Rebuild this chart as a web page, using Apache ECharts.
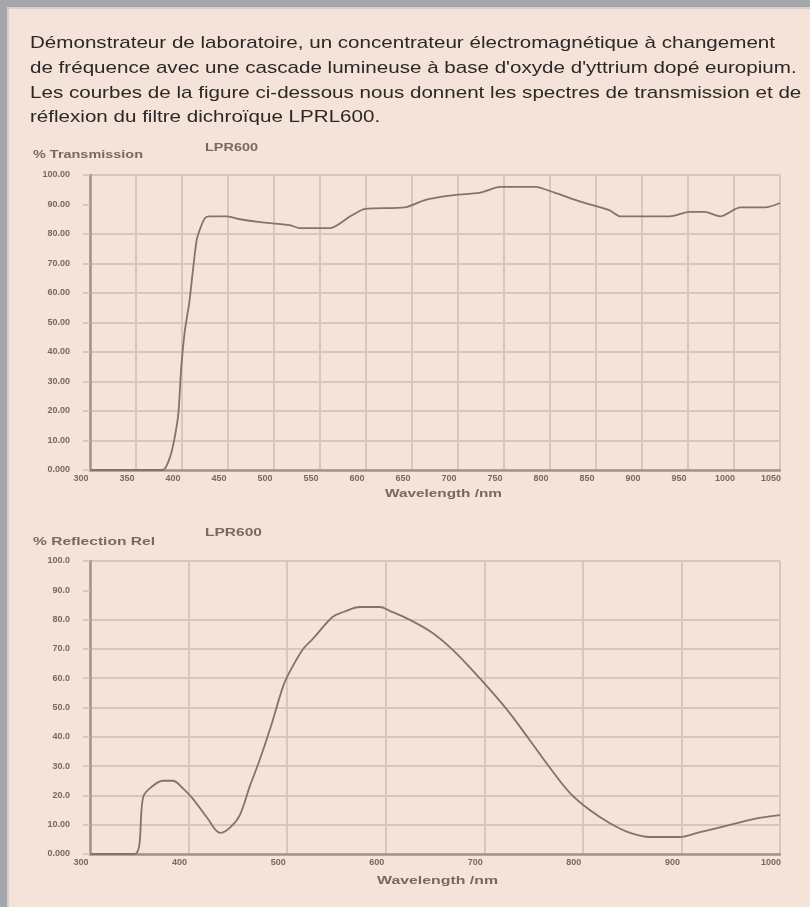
<!DOCTYPE html>
<html>
<head>
<meta charset="utf-8">
<script src="https://cdn.jsdelivr.net/npm/echarts@6/dist/echarts.min.js"></script>
<style>
  html, body { margin: 0; padding: 0; background: #f5e2d8; }
  #chart { width: 810px; height: 907px; }
</style>
</head>
<body>
<div id="chart"></div>
<script>
// Caption above the two spectra
const introLines = [
  "Démonstrateur de laboratoire, un concentrateur électromagnétique à changement",
  "de fréquence avec une cascade lumineuse à base d'oxyde d'yttrium dopé europium.",
  "Les courbes de la figure ci-dessous nous donnent les spectres de transmission et de",
  "réflexion du filtre dichroïque LPRL600."
];
const filterName = "LPR600";
const xAxisTitle = "Wavelength /nm";

// Transmission spectrum
const transAxisTitle = "% Transmission";
const transYLabels = ["0.000", "10.00", "20.00", "30.00", "40.00", "50.00", "60.00", "70.00", "80.00", "90.00", "100.00"];
const transWavelengths = [300, 379, 387, 392, 396, 399, 403, 408, 412, 416, 420, 425, 430, 449, 463, 485, 517, 528, 561, 583, 599, 642, 664, 691, 724, 746, 784, 805, 833, 865, 876, 930, 952, 968, 985, 1007, 1034, 1050];
const transValues      = [0,   0,   4.4, 11,  19,  34,  47,  57,  68,  78,  82,  85.4, 86, 86,  85,  84,  83,  82,  82,  86,  88.5, 89, 91.5, 93, 94,  96,  96,  94,  91,  88,  86,  86,  87.5, 87.5, 86, 89,  89,  90.5];

// Reflection spectrum
const reflAxisTitle = "% Reflection Rel";
const reflYLabels = ["0.000", "10.00", "20.0", "30.0", "40.0", "50.0", "60.0", "70.0", "80.0", "90.0", "100.0"];
const reflWavelengths = [300, 345, 354, 361, 374, 384, 394, 404, 419, 432, 442, 452, 462, 472, 483, 496, 503, 516, 526, 546, 557, 574, 594, 604, 624, 645, 665, 685, 706, 726, 746, 766, 787, 807, 827, 848, 868, 898, 919, 949, 979, 1000];
const reflValues      = [0,   0,   19.5, 22.5, 25, 25,  22.5, 19,  12.3, 7.2, 9,   13.3, 23,  32,  43,  57.3, 62.4, 69.9, 73.4, 80.9, 82.6, 84.3, 84.3, 83, 80,  76,  70.6, 63.8, 56, 48,  38.9, 29.7, 20.8, 15, 10.6, 7.2, 5.8, 5.8, 7.5, 9.9, 12.3, 13.3];

const pairs = (xs, ys) => xs.map((x, i) => [x, ys[i]]);

const TEXT_FONT = "'Liberation Sans Narrow', 'Liberation Sans', Arial, sans-serif";
const measureCtx = document.createElement('canvas').getContext('2d');
function textWidth(str, size, weight) {
  measureCtx.font = (weight || 'normal') + ' ' + size + 'px ' + TEXT_FONT;
  return measureCtx.measureText(str).width;
}
// text stretched horizontally to a given span
function fittedText(str, x, y, size, span, color, weight) {
  const w = textWidth(str, size, weight);
  return {
    type: 'text', x: x, y: y, scaleX: span / w, z: 10,
    style: {
      text: str, fill: color, align: 'left', verticalAlign: 'middle',
      font: (weight || 'normal') + ' ' + size + 'px ' + TEXT_FONT
    }
  };
}

const introScale = 745 / textWidth(introLines[0], 17);
const introY = [43, 68, 93, 117];
const introGraphics = introLines.map((line, i) => ({
  type: 'text', x: 30, y: introY[i], scaleX: introScale, z: 10,
  style: { text: line, fill: '#2c2826', align: 'left', verticalAlign: 'middle', font: 'normal 17px ' + TEXT_FONT }
}));

const GRID_COLOR = '#d8c6bc';
const AXIS_COLOR = '#a39289';
const LABEL_COLOR = '#756964';
const CURVE_COLOR = '#807370';

// the 90 % line is left out of the horizontal grid
function hGridColors() {
  const c = [];
  for (let i = 0; i <= 10; i++) c.push(i === 9 ? 'rgba(0,0,0,0)' : GRID_COLOR);
  return c;
}

function xAxisCfg(gridIndex, min, max, step) {
  return {
    type: 'value', gridIndex: gridIndex, min: min, max: max, interval: step,
    axisLine: { show: true, onZero: false, lineStyle: { color: AXIS_COLOR, width: 2.5 } },
    axisTick: { show: false },
    splitLine: { show: true, lineStyle: { color: GRID_COLOR, width: 2 } },
    axisLabel: {
      color: LABEL_COLOR, fontSize: 9, fontWeight: 'bold', margin: 4,
      fontFamily: TEXT_FONT, padding: [0, 18, 0, 0],
      formatter: v => String(v)
    }
  };
}
function yAxisCfg(gridIndex, labels) {
  return {
    type: 'value', gridIndex: gridIndex, min: 0, max: 100, interval: 10,
    axisLine: { show: true, lineStyle: { color: AXIS_COLOR, width: 2.5 } },
    axisTick: { show: true, length: 7, lineStyle: { color: GRID_COLOR, width: 2 } },
    splitLine: { show: true, lineStyle: { color: hGridColors(), width: 2 } },
    axisLabel: {
      color: LABEL_COLOR, fontSize: 9, fontWeight: 'bold', margin: 20,
      fontFamily: TEXT_FONT,
      formatter: v => labels[Math.round(v / 10)]
    }
  };
}

const chart = echarts.init(document.getElementById('chart'), null, { renderer: 'canvas' });
chart.setOption({
  backgroundColor: '#f5e2d8',
  animation: false,
  grid: [
    { left: 90, top: 175, width: 690, height: 295 },
    { left: 90, top: 561, width: 690, height: 293 }
  ],
  xAxis: [
    xAxisCfg(0, 300, 1050, 50),
    xAxisCfg(1, 300, 1000, 100)
  ],
  yAxis: [
    yAxisCfg(0, transYLabels),
    yAxisCfg(1, reflYLabels)
  ],
  series: [
    {
      type: 'line', xAxisIndex: 0, yAxisIndex: 0, showSymbol: false, smooth: 0.25,
      lineStyle: { color: CURVE_COLOR, width: 1.8 },
      data: pairs(transWavelengths, transValues), z: 5
    },
    {
      type: 'line', xAxisIndex: 1, yAxisIndex: 1, showSymbol: false, smooth: 0.35,
      lineStyle: { color: CURVE_COLOR, width: 1.8 },
      data: pairs(reflWavelengths, reflValues), z: 5
    }
  ],
  graphic: [
    // frame of the panel
    { type: 'rect', shape: { x: 0, y: 0, width: 810, height: 7 }, style: { fill: '#a3a6aa' }, z: 1 },
    { type: 'rect', shape: { x: 0, y: 0, width: 7, height: 907 }, style: { fill: '#a3a6aa' }, z: 1 },
    { type: 'rect', shape: { x: 7, y: 7, width: 803, height: 2 }, style: { fill: '#d9cfca' }, z: 1 },
    { type: 'rect', shape: { x: 7, y: 7, width: 2, height: 900 }, style: { fill: '#d9cfca' }, z: 1 },
    ...introGraphics,
    fittedText(transAxisTitle, 33, 155, 11, 110, LABEL_COLOR, 'bold'),
    fittedText(filterName, 205, 148, 11, 53, LABEL_COLOR, 'bold'),
    fittedText(xAxisTitle, 385, 494, 11, 117, LABEL_COLOR, 'bold'),
    fittedText(reflAxisTitle, 33, 542, 11, 122, LABEL_COLOR, 'bold'),
    fittedText(filterName, 205, 533, 11, 57, LABEL_COLOR, 'bold'),
    fittedText(xAxisTitle, 377, 881, 11, 121, LABEL_COLOR, 'bold')
  ]
});
</script>
</body>
</html>
